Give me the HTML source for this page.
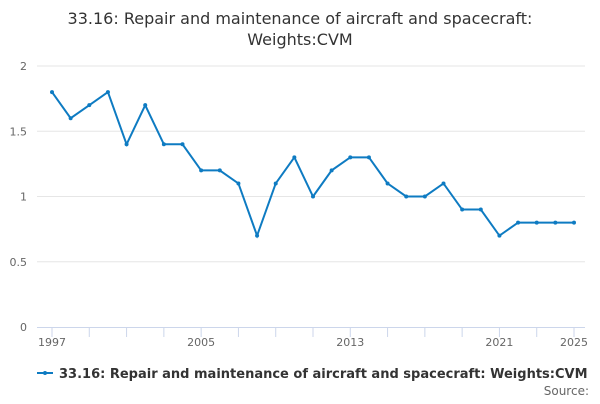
<!DOCTYPE html>
<html><head><meta charset="utf-8"><style>
body{margin:0;width:600px;height:400px;background:#fff;font-family:"DejaVu Sans","Liberation Sans",sans-serif;overflow:hidden}
</style></head><body>
<svg width="600" height="400">
<text x="300" y="24" text-anchor="middle" font-size="16" fill="#333">33.16: Repair and maintenance of aircraft and spacecraft:</text>
<text x="300" y="45" text-anchor="middle" font-size="16" fill="#333">Weights:CVM</text>
<g id="grid"></g><g id="xaxis"></g><g id="series"></g>
<g>
<line x1="37" y1="373" x2="53" y2="373" stroke="#0e7bc2" stroke-width="2"/>
<circle cx="45" cy="373" r="2" fill="#0e7bc2"/>
<text x="59" y="378" font-size="13" font-weight="bold" fill="#333">33.16: Repair and maintenance of aircraft and spacecraft: Weights:CVM</text>
</g>
<text x="589" y="395" text-anchor="end" font-size="12" fill="#666">Source:</text>
</svg>
<script>
const years=[1997,1998,1999,2000,2001,2002,2003,2004,2005,2006,2007,2008,2009,2010,2011,2012,2013,2014,2015,2016,2017,2018,2019,2020,2021,2022,2023,2024,2025];
const values=[1.8,1.6,1.7,1.8,1.4,1.7,1.4,1.4,1.2,1.2,1.1,0.7,1.1,1.3,1.0,1.2,1.3,1.3,1.1,1.0,1.0,1.1,0.9,0.9,0.7,0.8,0.8,0.8,0.8];
const yTicks=[0,0.5,1,1.5,2];
const xLabels=[1997,2005,2013,2021,2025];
const NS="http://www.w3.org/2000/svg";
const x=v=>52+(v-1997)*(574-52)/28;
const y=v=>327-v*(327-66)/2;
function mk(t,a,p){const e=document.createElementNS(NS,t);for(const k in a)e.setAttribute(k,a[k]);p.appendChild(e);return e;}
const g=document.getElementById('grid'),xa=document.getElementById('xaxis'),s=document.getElementById('series');
yTicks.forEach(v=>{
 if(v>0){const l=mk('line',{x1:37,x2:585,y1:y(v),y2:y(v),stroke:'#e6e6e6'},g);
 
 }
 const t=mk('text',{x:27,y:y(v)+4,'text-anchor':'end','font-size':11,fill:'#666'},g);t.textContent=v;
 
 
});
const ax=mk('line',{x1:37,x2:585,y1:327.5,y2:327.5,stroke:'#ccd6eb'},xa);


for(let yr=1997;yr<=2025;yr+=2){const tk=mk('line',{x1:x(yr),x2:x(yr),y1:327,y2:337,stroke:'#ccd6eb'},xa);
 
 }
xLabels.forEach(yr=>{const t=mk('text',{x:x(yr),y:346,'text-anchor':'middle','font-size':11,fill:'#666'},xa);t.textContent=yr;
 
 });
const line=mk('polyline',{points:years.map((yr,i)=>x(yr)+','+y(values[i])).join(' '),fill:'none',stroke:'#0e7bc2','stroke-width':2},s);


years.forEach((yr,i)=>{const c=mk('circle',{cx:x(yr),cy:y(values[i]),r:2,fill:'#0e7bc2'},s);
 
 });
</script>
</body></html>
